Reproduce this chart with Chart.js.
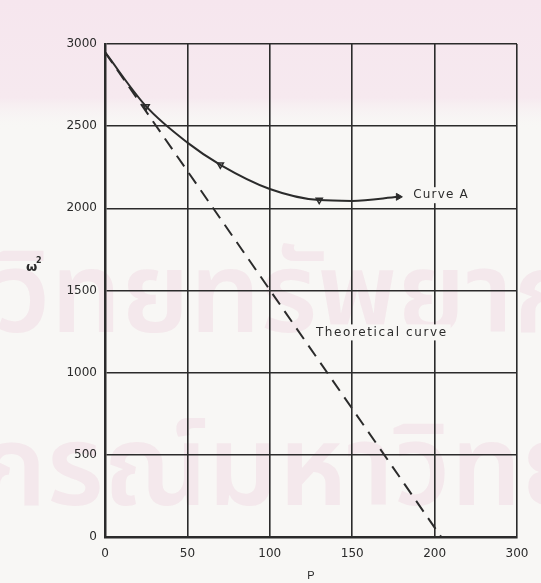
<!DOCTYPE html>
<html>
<head>
<meta charset="utf-8">
<script src="https://cdn.jsdelivr.net/npm/chart.js@4.4.1/dist/chart.umd.min.js"></script>
<style>
  html, body { margin: 0; padding: 0; background: #f8f7f5; }
  #wrap { width: 541px; height: 583px; position: relative; }
</style>
</head>
<body>
<div id="wrap"><canvas id="c" width="541" height="583"></canvas></div>
<script>
// P values and ω² values read along Curve A
const curveAP = [0, 25, 50, 70, 100, 130, 150, 178];
const curveAW = [2950, 2620, 2400, 2265, 2118, 2050, 2045, 2070];
// measured points marked on Curve A
const markP = [25, 70, 130];
const markW = [2620, 2265, 2050];
// theoretical straight line
const theoP = [0, 204];
const theoW = [2950, 0];
// axis tick labels as printed
const xTickLabels = ['0', '50', '100', '150', '200', '300'];
const yTickValues = [0, 500, 1000, 1500, 2000, 2500, 3000];

const ink = '#2b2b2b';
const paper = '#f8f7f5';

function labelWithBackground(ctx, text, x, y, spacing) {
  ctx.letterSpacing = spacing + 'px';
  const w = ctx.measureText(text).width;
  ctx.fillStyle = paper;
  ctx.fillRect(x - 3, y - 8, w + 6, 16);
  ctx.fillStyle = ink;
  ctx.fillText(text, x, y);
  ctx.letterSpacing = '0px';
}

const pagePlugin = {
  id: 'page',
  beforeDraw(chart) {
    const ctx = chart.ctx;
    ctx.save();
    ctx.fillStyle = paper;
    ctx.fillRect(0, 0, chart.width, chart.height);
    const g = ctx.createLinearGradient(0, 0, 0, 130);
    g.addColorStop(0, '#f6e6ee');
    g.addColorStop(0.75, '#f6e9ef');
    g.addColorStop(1, 'rgba(248,247,245,0)');
    ctx.fillStyle = g;
    ctx.fillRect(0, 0, chart.width, 130);
    // faint watermark lettering
    ctx.fillStyle = 'rgba(228,176,200,0.2)';
    ctx.font = '600 112px "Noto Sans Thai", "Loma", "Garuda", sans-serif';
    ctx.textBaseline = 'alphabetic';
    ctx.fillText('วิทยทรัพยากร', -6, 332);
    ctx.fillText('กรณ์มหาวิทยา', -22, 505);
    ctx.restore();
  },
  afterDatasetsDraw(chart) {
    const ctx = chart.ctx;
    const xs = chart.scales.x, ys = chart.scales.y;
    ctx.save();
    ctx.textBaseline = 'middle';
    ctx.textAlign = 'left';
    ctx.font = '12px "DejaVu Sans", sans-serif';
    labelWithBackground(ctx, 'Curve A', xs.getPixelForValue(187), ys.getPixelForValue(2080), 1.2);
    labelWithBackground(ctx, 'Theoretical curve', xs.getPixelForValue(128), ys.getPixelForValue(1245), 1.6);
    // y axis symbol
    ctx.fillStyle = ink;
    ctx.font = 'bold 13px "DejaVu Sans", sans-serif';
    ctx.fillText('ω', 26, ys.getPixelForValue(1640));
    ctx.font = 'bold 8px "DejaVu Sans", sans-serif';
    ctx.fillText('2', 36, ys.getPixelForValue(1680));
    ctx.restore();
  }
};

new Chart(document.getElementById('c'), {
  type: 'scatter',
  data: {
    datasets: [
      {
        label: 'Curve A',
        data: curveAP.map((p, i) => ({ x: p, y: curveAW[i] })),
        showLine: true,
        borderColor: ink,
        borderWidth: 2,
        cubicInterpolationMode: 'monotone',
        pointRadius: 0
      },
      {
        label: 'points',
        data: markP.map((p, i) => ({ x: p, y: markW[i] })),
        pointStyle: 'triangle',
        rotation: 180,
        pointRadius: 3.5,
        backgroundColor: 'rgba(0,0,0,0)',
        borderColor: ink,
        borderWidth: 1.5
      },
      {
        label: 'end',
        data: [{ x: curveAP[curveAP.length - 1], y: curveAW[curveAW.length - 1] }],
        pointStyle: 'triangle',
        rotation: 90,
        pointRadius: 4,
        backgroundColor: ink,
        borderColor: ink
      },
      {
        label: 'Theoretical curve',
        data: theoP.map((p, i) => ({ x: p, y: theoW[i] })),
        showLine: true,
        borderColor: ink,
        borderWidth: 2,
        borderDash: [13, 8],
        pointRadius: 0
      }
    ]
  },
  options: {
    responsive: false,
    animation: false,
    layout: { padding: { top: 44, right: 24, left: 0, bottom: 0 } },
    plugins: { legend: { display: false }, tooltip: { enabled: false } },
    scales: {
      x: {
        type: 'linear',
        min: 0, max: 250,
        afterBuildTicks(s) { s.ticks = [0, 50, 100, 150, 200, 250].map(v => ({ value: v })); },
        afterFit(s) { s.height = 46; },
        ticks: {
          color: ink,
          font: { size: 12, family: '"DejaVu Sans", sans-serif' },
          padding: 10,
          maxRotation: 0,
          callback: (v, i) => xTickLabels[i]
        },
        grid: { color: ink, lineWidth: 1.6, drawTicks: false },
        border: { color: ink, width: 2.5 },
        title: { display: true, text: 'P', color: ink, font: { size: 11 }, padding: { top: 0, bottom: 0 } }
      },
      y: {
        type: 'linear',
        min: 0, max: 3000,
        afterBuildTicks(s) { s.ticks = yTickValues.map(v => ({ value: v })); },
        afterFit(s) { s.width = 105; },
        ticks: {
          color: ink,
          font: { size: 12, family: '"DejaVu Sans", sans-serif' },
          padding: 8,
          callback: v => String(v)
        },
        grid: { color: ink, lineWidth: 1.6, drawTicks: false },
        border: { color: ink, width: 2.5 }
      }
    }
  },
  plugins: [pagePlugin]
});
</script>
</body>
</html>
